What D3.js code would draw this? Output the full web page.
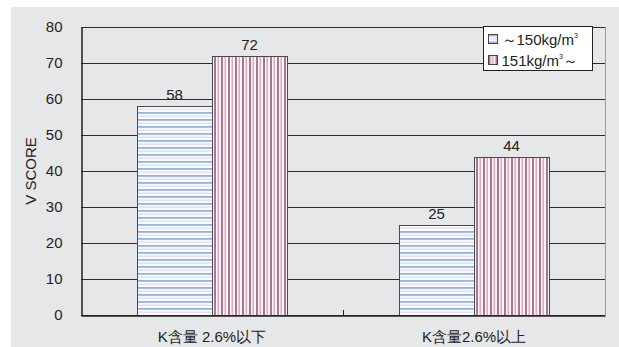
<!DOCTYPE html>
<html>
<head>
<meta charset="utf-8">
<script src="https://cdn.jsdelivr.net/npm/d3@7"></script>
<style>
  html, body { margin: 0; padding: 0; background: #fff; }
  svg { display: block; }
  text { font-family: "Liberation Sans", Arial, sans-serif; fill: #222; }
</style>
</head>
<body>
<svg id="chart" width="619" height="347"></svg>
<script>
// Categories, series and values
const categories = ["K含量 2.6%以下", "K含量2.6%以上"];
const seriesNames = ["～150kg/㎥", "151kg/㎥～"];
const lowDensity = [58, 25];
const highDensity = [72, 44];
const yTicks = [0, 10, 20, 30, 40, 50, 60, 70, 80];

const W = 619, H = 347;
const margin = { left: 81, right: 14, top: 27, bottom: 32 };
const svg = d3.select("#chart");
const cjkFont = "Noto Sans CJK JP, sans-serif";

// Panel background
svg.append("rect").attr("x", 11).attr("y", 7).attr("width", W - 11).attr("height", H - 7)
  .attr("fill", "#e6e7e8");

// Fill patterns
const defs = svg.append("defs");
const ph = defs.append("pattern").attr("id", "hstripe").attr("patternUnits", "userSpaceOnUse")
  .attr("width", 8).attr("height", 7);
ph.append("rect").attr("width", 8).attr("height", 7).attr("fill", "#fbfbff");
ph.append("rect").attr("y", 0).attr("width", 8).attr("height", 1.8).attr("fill", "#8fb5e4");
ph.append("rect").attr("y", 3.5).attr("width", 8).attr("height", 1.4).attr("fill", "#e6dcef");

const pv = defs.append("pattern").attr("id", "vstripe").attr("patternUnits", "userSpaceOnUse")
  .attr("width", 7).attr("height", 8);
pv.append("rect").attr("width", 7).attr("height", 8).attr("fill", "#fdf6f4");
pv.append("rect").attr("x", 0).attr("width", 2).attr("height", 8).attr("fill", "#a6769a");
pv.append("rect").attr("x", 3.5).attr("width", 1.5).attr("height", 8).attr("fill", "#e2a6b6");

const x0 = d3.scaleBand().domain(categories).range([margin.left, W - margin.right]);
const x1 = d3.scaleBand().domain(seriesNames).range([0, 150]);
const y = d3.scaleLinear().domain([0, 80]).range([H - margin.bottom, margin.top]);

// Gridlines
svg.append("g").selectAll("line").data(yTicks).join("line")
  .attr("x1", margin.left).attr("x2", W - margin.right)
  .attr("y1", d => Math.round(y(d)) + 0.5).attr("y2", d => Math.round(y(d)) + 0.5)
  .attr("stroke", "#2b2b2b").attr("stroke-width", 1);

// Right border of plot
svg.append("line").attr("x1", W - margin.right + 0.5).attr("x2", W - margin.right + 0.5)
  .attr("y1", margin.top).attr("y2", H - margin.bottom)
  .attr("stroke", "#9a9a9a");

// Bars
const groups = categories.map((c, i) => ({ c, vals: [lowDensity[i], highDensity[i]] }));
const fills = ["url(#hstripe)", "url(#vstripe)"];
const g = svg.append("g").selectAll("g").data(groups).join("g")
  .attr("transform", d => `translate(${x0(d.c) + (x0.bandwidth() - 150) / 2},0)`);
g.selectAll("rect").data(d => d.vals.map((v, j) => ({ v, s: seriesNames[j], j }))).join("rect")
  .attr("x", d => Math.round(x1(d.s)) + 0.5)
  .attr("y", d => Math.round(y(d.v)) + 0.5)
  .attr("width", x1.bandwidth())
  .attr("height", d => Math.round(y(0)) - Math.round(y(d.v)))
  .attr("fill", d => fills[d.j])
  .attr("stroke", "#4a4a4a").attr("stroke-width", 1);
g.selectAll("text").data(d => d.vals.map((v, j) => ({ v, s: seriesNames[j] }))).join("text")
  .attr("x", d => x1(d.s) + x1.bandwidth() / 2)
  .attr("y", d => y(d.v) - 6)
  .attr("text-anchor", "middle").attr("font-size", 15)
  .text(d => d.v);

// Y axis
const yAxis = d3.axisLeft(y).tickValues(yTicks).tickSize(0).tickPadding(19);
const ya = svg.append("g").attr("transform", `translate(${margin.left + 0.5},0)`).call(yAxis);
ya.select(".domain").attr("stroke", "#222").attr("stroke-width", 1.5);
ya.selectAll("text").attr("font-size", 15).attr("fill", "#222")
  .attr("font-family", "Liberation Sans, Arial, sans-serif");

// X axis
const xAxis = d3.axisBottom(x0).tickSize(0).tickPadding(16);
const xa = svg.append("g").attr("transform", `translate(0,${Math.round(y(0)) + 0.5})`).call(xAxis);
xa.select(".domain").attr("stroke", "#222").attr("stroke-width", 1.5);
xa.selectAll("text").attr("font-size", 15).attr("fill", "#222")
  .attr("font-family", cjkFont);
// Category separator tick
svg.append("line")
  .attr("x1", x0(categories[1]) + 0.5).attr("x2", x0(categories[1]) + 0.5)
  .attr("y1", y(0) - 5).attr("y2", y(0))
  .attr("stroke", "#222");

// Y axis title
svg.append("text")
  .attr("transform", `translate(36,${(margin.top + H - margin.bottom) / 2}) rotate(-90)`)
  .attr("text-anchor", "middle").attr("font-size", 15)
  .text("V SCORE");

// Legend; the cubic-metre sign is set as "m" with a raised "3"
const lg = svg.append("g").attr("transform", "translate(483.5,26.5)");
lg.append("rect").attr("width", 109).attr("height", 44).attr("fill", "#fff").attr("stroke", "#222");
seriesNames.forEach((s, i) => {
  const row = lg.append("g").attr("transform", `translate(5,${8 + i * 21})`);
  row.append("rect").attr("width", 9).attr("height", 9).attr("fill", fills[i]).attr("stroke", "#444");
  const t = row.append("text").attr("x", 13).attr("y", 10)
    .attr("font-size", 15).attr("font-family", cjkFont);
  const [before, after] = s.split("㎥");
  t.append("tspan").text(before + "m");
  t.append("tspan").attr("font-size", 7).attr("dy", -7).text("3");
  if (after) t.append("tspan").attr("dy", 7).text(after);
});
</script>
</body>
</html>
